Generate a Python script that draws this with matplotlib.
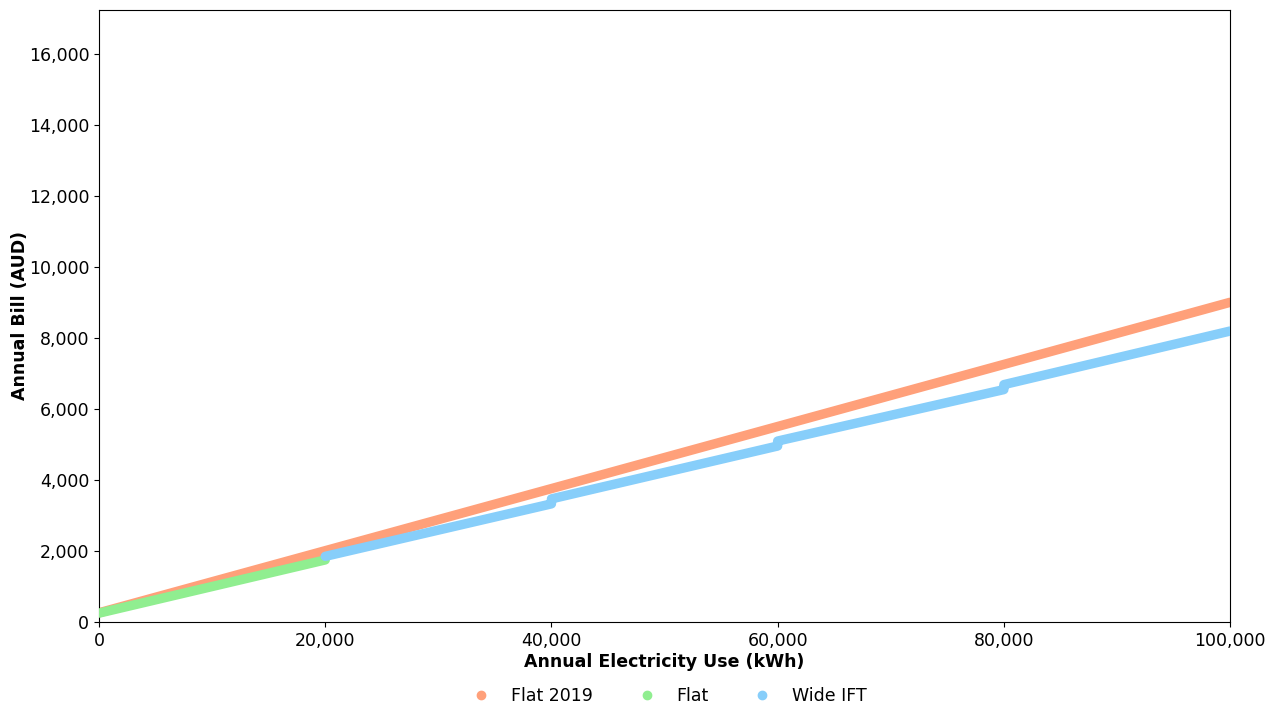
import matplotlib
matplotlib.use("Agg")
import matplotlib.pyplot as plt
from matplotlib.lines import Line2D
from matplotlib.ticker import FuncFormatter

# Data: annual use (kWh) and annual bill (AUD)
flat2019_use = [0, 100000]
flat2019_bill = [260, 9010]

flat_use = [0, 20000]
flat_bill = [250, 1750]

# Wide IFT: piecewise with small jumps at each 20,000 kWh block
wide_use = [20000, 40000, 40000, 60000, 60000, 80000, 80000, 100000]
wide_bill = [1850, 3330, 3470, 4960, 5100, 6550, 6690, 8200]

series_names = ["Flat 2019", "Flat", "Wide IFT"]
colors = ["#FFA07A", "#90EE90", "#87CEFA"]

fig = plt.figure(figsize=(12.78, 7.09), dpi=100)
ax = fig.add_axes([0.0775, 0.1227, 0.885, 0.8633])

lw = 6.8
ax.plot(flat2019_use, flat2019_bill, color=colors[0], lw=lw, solid_capstyle="round", zorder=2)
ax.plot(flat_use, flat_bill, color=colors[1], lw=lw, solid_capstyle="round", zorder=3)
ax.plot(wide_use, wide_bill, color=colors[2], lw=lw, solid_capstyle="round",
        solid_joinstyle="round", zorder=4)

ax.set_xlim(0, 100000)
ax.set_ylim(0, 17250)
ax.set_xticks([0, 20000, 40000, 60000, 80000, 100000])
ax.set_yticks(range(0, 16001, 2000))
fmt = FuncFormatter(lambda v, p: f"{int(v):,}")
ax.xaxis.set_major_formatter(fmt)
ax.yaxis.set_major_formatter(fmt)
ax.tick_params(labelsize=12.5)

ax.set_xlabel("Annual Electricity Use (kWh)", fontsize=12.5, fontweight="bold", labelpad=2)
ax.set_ylabel("Annual Bill (AUD)", fontsize=12.5, fontweight="bold", labelpad=0)

handles = [Line2D([], [], marker="o", ls="", color=c, markersize=6) for c in colors]
fig.legend(handles, series_names, loc="lower center", ncol=3, frameon=False,
           fontsize=12.5, bbox_to_anchor=(0.5205, -0.016), columnspacing=2.1,
           handletextpad=0.7)

fig.savefig("out.png", dpi=100)
